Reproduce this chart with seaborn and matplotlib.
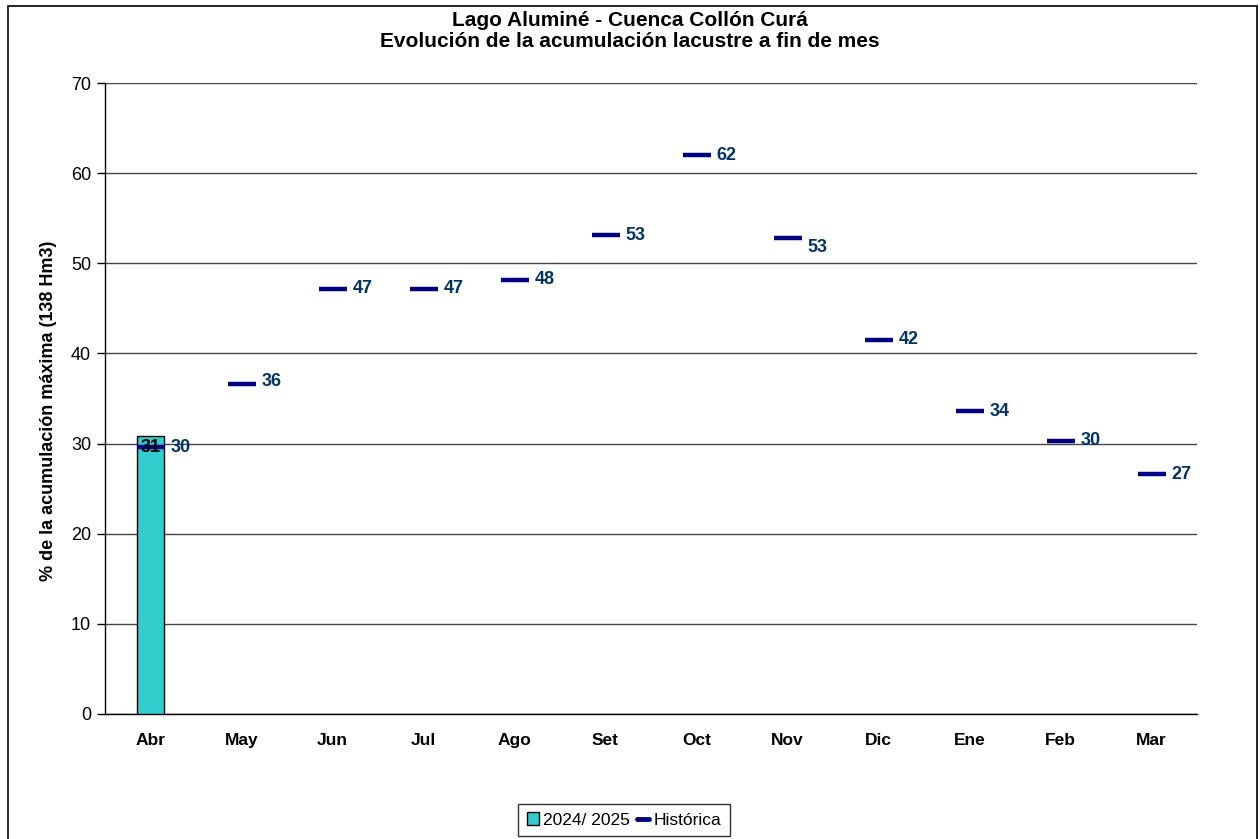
import matplotlib
matplotlib.use("Agg")
import matplotlib.pyplot as plt
import seaborn as sns
import numpy as np
import pandas as pd
from matplotlib.patches import Rectangle
from matplotlib.lines import Line2D
from matplotlib.patches import Patch

months = ["Abr", "May", "Jun", "Jul", "Ago", "Set", "Oct", "Nov", "Dic", "Ene", "Feb", "Mar"]
actual_2024 = [30.8, np.nan, np.nan, np.nan, np.nan, np.nan, np.nan, np.nan, np.nan, np.nan, np.nan, np.nan]
actual_labels = ["31", "", "", "", "", "", "", "", "", "", "", ""]
historica = [29.6, 36.6, 47.2, 47.2, 48.2, 53.1, 62.0, 52.8, 41.5, 33.6, 30.3, 26.6]
historica_labels = ["30", "36", "47", "47", "48", "53", "62", "53", "42", "34", "30", "27"]

title = "Lago Aluminé - Cuenca Collón Curá\nEvolución de la acumulación lacustre a fin de mes"
ylabel = "% de la acumulación máxima (138 Hm3)"
legend_labels = ["2024/ 2025", "Histórica"]

sns.set_style("white")
plt.rcParams["font.family"] = ["Liberation Sans", "DejaVu Sans"]
plt.rcParams["text.color"] = "black"
plt.rcParams["axes.labelcolor"] = "black"
plt.rcParams["xtick.color"] = "black"
plt.rcParams["ytick.color"] = "black"

df = pd.DataFrame({"mes": months, "actual": actual_2024, "hist": historica})

fig = plt.figure(figsize=(12.6, 8.39), dpi=100)
ax = fig.add_axes([105 / 1260, 1 - 714 / 839, (1197 - 105) / 1260, (714 - 83) / 839])

sns.barplot(data=df, x="mes", y="actual", order=months, color="#33CCCC",
            edgecolor="black", linewidth=1, width=0.29, saturation=1, ax=ax, zorder=3)
sns.scatterplot(data=df, x="mes", y="hist", marker="_", s=380, color="#000080",
                linewidth=3.2, ax=ax, zorder=4, legend=False)

ax.set_xlim(-0.5, 11.5)
ax.set_ylim(0, 70)
ax.set_yticks(range(0, 71, 10))
ax.yaxis.grid(True, color="#444444", linewidth=1, zorder=0)
ax.set_axisbelow(True)
for s in ["top", "right"]:
    ax.spines[s].set_visible(False)
ax.spines["left"].set_color("black")
ax.spines["bottom"].set_color("black")
ax.spines["left"].set_linewidth(1)
ax.spines["bottom"].set_linewidth(1)

ax.tick_params(axis="y", which="both", direction="out", length=6, width=1, color="black",
               labelsize=13, pad=4, left=True, labelcolor="black")
ax.set_xticks(np.arange(12))
ax.set_xticklabels(months, fontweight="bold", fontsize=12.5, color="black")
ax.tick_params(axis="x", which="major", length=0, pad=14)
ax.set_xticks(np.arange(-0.5, 12, 1), minor=True)
ax.tick_params(axis="x", which="minor", direction="out", length=5, width=1, color="#888888")

ax.set_xlabel("")
ax.set_ylabel(ylabel, fontweight="bold", fontsize=13, color="black")
ax.yaxis.set_label_coords(-0.044, 0.48)

# labels for historical values
label_dy = [0, 0.3, 0, 0, 0, 0, 0, -1.0, 0, 0, 0, 0]
for i, (v, lab) in enumerate(zip(historica, historica_labels)):
    ax.annotate(lab, (i, v + label_dy[i]), xytext=(14.5, 0), textcoords="offset points",
                ha="left", va="center", fontsize=13, fontweight="bold", color="#003366", zorder=6)

for i, (v, lab) in enumerate(zip(actual_2024, actual_labels)):
    if lab:
        ax.annotate(lab, (i, v), xytext=(0, -8), textcoords="offset points",
                    ha="center", va="center", fontsize=13, fontweight="bold", color="black", zorder=5)

fig.text(630 / 1260, 1 - 31 / 839, title, ha="center", va="center", fontsize=15,
         fontweight="bold", linespacing=1.15, color="black")

handles = [Patch(facecolor="#33CCCC", edgecolor="black", linewidth=1),
           Line2D([0], [0], color="#000080", linewidth=3.5)]
leg = fig.legend(handles, legend_labels, loc="center", bbox_to_anchor=(624 / 1260, 1 - 820 / 839),
                 ncol=2, frameon=True, fancybox=False, edgecolor="black", fontsize=12.5,
                 handlelength=0.7, handleheight=0.7, handletextpad=0.25, columnspacing=0.4,
                 borderpad=0.5, borderaxespad=0)
leg.get_frame().set_linewidth(1)

fig.patches.append(Rectangle((8 / 1260, -0.05), (1257 - 8) / 1260, 1.05 - 6 / 839,
                             transform=fig.transFigure, fill=False, edgecolor="black",
                             linewidth=1.2, zorder=10))

fig.savefig("out.png", dpi=100)
